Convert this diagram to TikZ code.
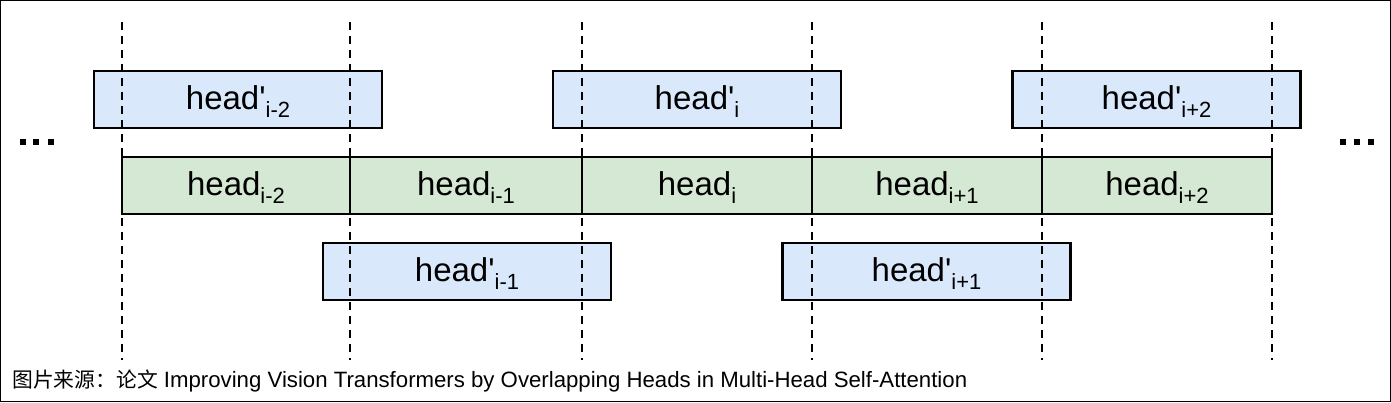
\documentclass[tikz,border=0pt]{standalone}
\usepackage{fontspec}
\setmainfont{Liberation Sans}
\newfontfamily\cjk{Noto Sans CJK SC}
\definecolor{bluefill}{HTML}{DAE8FC}
\definecolor{greenfill}{HTML}{D5E8D4}
\tikzset{
  hbox/.style={draw=black, line width=2.6pt, inner sep=0pt, minimum height=57pt,
    text height=38.5pt, text depth=18.5pt, font=\fontsize{33}{33}\selectfont},
  bluebox/.style={hbox, fill=bluefill, minimum width=288pt},
  greenbox/.style={hbox, fill=greenfill},
  vline/.style={draw=black, line width=2.8pt, dash pattern=on 8pt off 6pt},
  dotsq/.style={fill=black, minimum size=6pt, inner sep=0pt},
}
\newcommand{\hsub}[1]{\raisebox{-8pt}{\fontsize{22}{22}\selectfont #1}}
\begin{document}
\begin{tikzpicture}[x=1pt,y=-1pt]
\useasboundingbox (0,0) rectangle (1391,402);
\draw[line width=1.2pt] (0.6,0.6) rectangle (1390.4,401.4);
% green row
\node[greenbox, minimum width=228pt] (g1) at (236,185.5) {head\hsub{i-2}};
\node[greenbox, minimum width=232pt] (g2) at (466,185.5) {head\hsub{i-1}};
\node[greenbox, minimum width=230pt] (g3) at (697,185.5) {head\hsub{i}};
\node[greenbox, minimum width=230pt] (g4) at (927,185.5) {head\hsub{i+1}};
\node[greenbox, minimum width=230pt] (g5) at (1157,185.5) {head\hsub{i+2}};
% blue rows
\node[bluebox] (b1) at (238,99.5) {head\textquotesingle\hsub{i-2}};
\node[bluebox] (b3) at (697,99.5) {head\textquotesingle\hsub{i}};
\node[bluebox] (b5) at (1156.5,99.5) {head\textquotesingle\hsub{i+2}};
\node[bluebox] (b2) at (467,271.5) {head\textquotesingle\hsub{i-1}};
\node[bluebox] (b4) at (926.5,271.5) {head\textquotesingle\hsub{i+1}};
% dashed lines
\foreach \i/\x in {1/122,2/350,3/582,4/812,5/1042,6/1272}{
  \coordinate (t\i) at (\x,22);
  \coordinate (e\i) at (\x,360);
  \draw[vline] (t\i) -- (e\i);
}
% dots
\foreach \i/\x in {1/23,2/36,3/51}{\node[dotsq] (dl\i) at (\x,142) {};}
\foreach \i/\x in {1/1343,2/1357,3/1371}{\node[dotsq] (dr\i) at (\x,142) {};}
% caption
\node[anchor=base west, inner sep=0pt, font=\fontsize{22.2}{23}\selectfont] (cap) at (12,387)
  {{\cjk\fontsize{20.8}{23}\selectfont 图片来源：论文} Improving Vision Transformers by Overlapping Heads in Multi-Head Self-Attention};
\end{tikzpicture}
\end{document}
